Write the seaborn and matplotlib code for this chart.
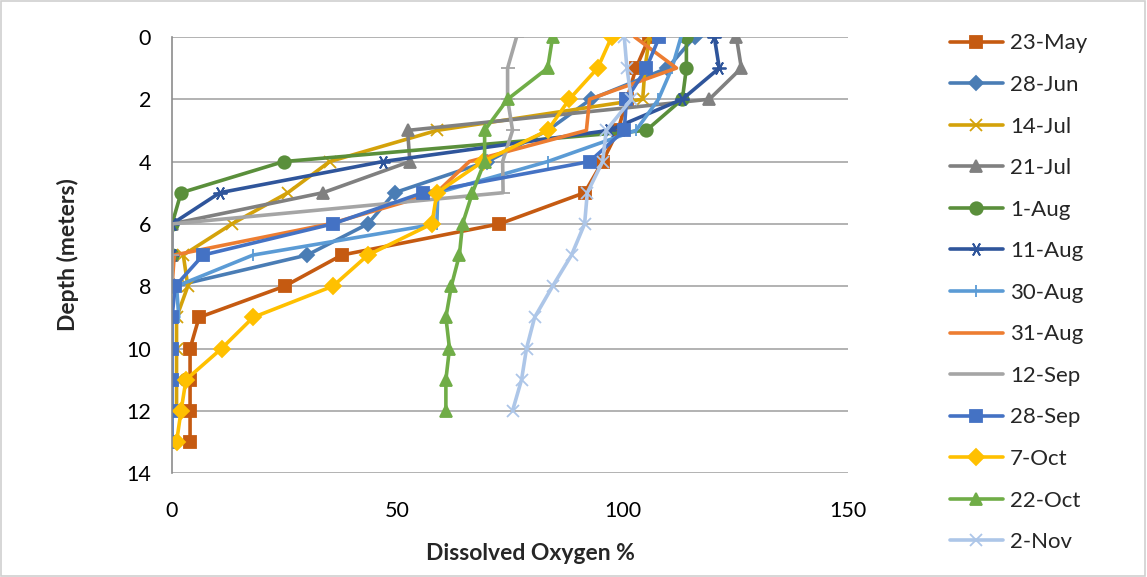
import matplotlib
matplotlib.use("Agg")
import matplotlib.pyplot as plt
import seaborn as sns
import pandas as pd

sns.set_theme(style="white")
plt.rcParams['font.family'] = ['Lato', 'DejaVu Sans']

# ---- data: dissolved oxygen % at each depth (m) ----
d_23may = [106, 103, 101, 99, 95.6, 91.6, 72.7, 37.7, 25, 6, 4, 4, 4, 4]
d_28jun = [116, 110, 93, 83.4, 70, 49.4, 43.5, 30, 0.5]
d_14jul = [106, 105, 104.5, 58.8, 35, 25.7, 13.3, 2.5, 3.5, 1, 1, 1, 1]
d_21jul = [125.3, 126.4, 119.3, 52.3, 52.8, 33.5, 0, 0, 0]
d_01aug = [114.2, 114.2, 113.3, 105.3, 24.8, 2, 0, 0, 0]
d_11aug = [120.4, 121.5, 113.3, 97, 46.8, 10.6, 0, 0, 0]
d_30aug = [113, 111, 108, 103, 83.4, 59, 58.8, 18, 1, 1.5]
d_31aug = [102.7, 112, 92.7, 92, 66, 58.7, 35, 0.5, 0]
d_12sep = [76.5, 74.5, 74.5, 75.6, 73.4, 73.5, 0, 0, 0]
d_28sep = [108.2, 105.3, 100.9, 100.4, 92.7, 55.7, 35.7, 6.9, 0.7, 0, 0, 0, 0, 0]
d_07oct = [97.6, 94.5, 88.2, 83.4, 69, 58.8, 57.7, 43.5, 35.7, 18, 11, 3.1, 2, 1]
d_22oct = [84.5, 83.4, 74.5, 69.4, 69.4, 66.7, 64.5, 63.8, 62, 60.8, 61.6, 60.8, 60.8]
d_02nov = [100.4, 101, 102, 96.4, 95.6, 92.2, 91.6, 88.7, 84.5, 80.5, 78.7, 77.6, 75.6]

labels = ["23-May", "28-Jun", "14-Jul", "21-Jul", "1-Aug", "11-Aug", "30-Aug",
          "31-Aug", "12-Sep", "28-Sep", "7-Oct", "22-Oct", "2-Nov"]
series = [d_23may, d_28jun, d_14jul, d_21jul, d_01aug, d_11aug, d_30aug,
          d_31aug, d_12sep, d_28sep, d_07oct, d_22oct, d_02nov]

x_ticks = [0, 50, 100, 150]
y_ticks = [0, 2, 4, 6, 8, 10, 12, 14]

colors = ['#C55A11', '#4A7DB5', '#D4A20A', '#808080', '#5A8F3B', '#2F559B',
          '#5B9BD5', '#ED7D31', '#A5A5A5', '#4472C4', '#FFC000', '#70AD47', '#ADC6E8']
markers = ['s', 'D', 'x', '^', 'o', (6, 2, 90), '|', None, '_', 's', 'D', '^', 'x']
msizes = [9, 7, 8, 9, 9, 10, 8, 0, 10, 9, 8, 9, 9]

fig = plt.figure(figsize=(11.47, 5.77), dpi=100)
ax = fig.add_axes([0.15, 0.18, 0.589, 0.756])

for lab, vals, c, m, ms in zip(labels, series, colors, markers, msizes):
    df = pd.DataFrame({"do": vals, "depth": list(range(len(vals)))})
    kw = dict(marker=m, markersize=ms, markeredgecolor=c, markerfacecolor=c,
              markeredgewidth=1.3) if m is not None else dict()
    sns.lineplot(data=df, x="do", y="depth", sort=False, estimator=None,
                 color=c, linewidth=2.6, label=lab, ax=ax, legend=False, **kw)

ax.set_xlim(0, 150)
ax.set_ylim(14, 0)
ax.set_xticks(x_ticks)
ax.set_yticks(y_ticks)
ax.tick_params(axis='both', labelsize=15.5, colors='#404040', labelcolor='black')
ax.tick_params(axis='y', length=5, width=1, color='#A0A0A0', pad=10)
ax.tick_params(axis='x', length=0, pad=20)
ax.yaxis.grid(True, color='#A6A6A6', linewidth=1.2)
ax.xaxis.grid(False)
for s in ['top', 'right', 'bottom']:
    ax.spines[s].set_visible(False)
ax.spines['left'].set_color('#8C8C8C')
ax.spines['left'].set_linewidth(1.2)

ax.set_xlabel("Dissolved Oxygen %", fontsize=16.5, fontweight='bold')
ax.xaxis.set_label_coords(0.53, -0.16)
ax.set_ylabel("Depth (meters)", fontsize=16.5, fontweight='bold')
ax.yaxis.set_label_coords(-0.137, 0.5)

handles, labs = ax.get_legend_handles_labels()
fig.legend(handles, labs, loc='upper left', bbox_to_anchor=(0.828, 0.942),
           frameon=False, fontsize=16, labelspacing=0.97, handlelength=2.4,
           handletextpad=0.3, borderpad=0, borderaxespad=0)

fig.patches.append(plt.Rectangle((0.001, 0.001), 0.997, 0.997, transform=fig.transFigure,
                                 fill=False, edgecolor='#D0D0D0', linewidth=1.2))

fig.savefig("out.png", dpi=100)
